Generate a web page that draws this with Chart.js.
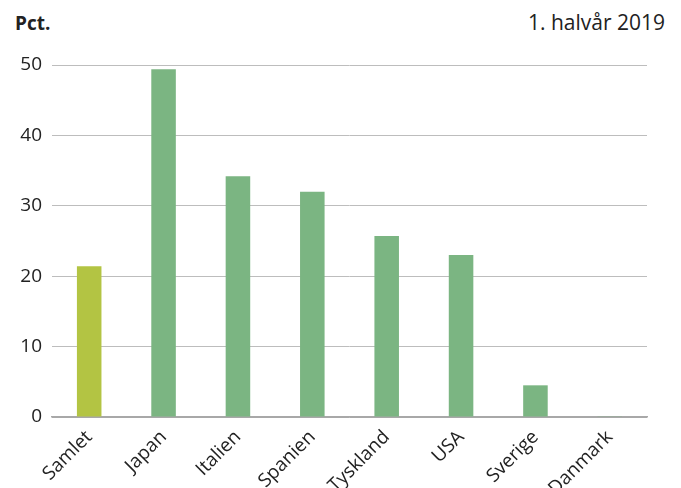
<!DOCTYPE html>
<html>
<head>
<meta charset="utf-8">
<script src="https://cdn.jsdelivr.net/npm/chart.js@4"></script>
<style>
  html, body { margin: 0; padding: 0; background: #fff; }
  #wrap { position: relative; width: 681px; height: 488px; overflow: hidden; font-family: "Open Sans", Roboto, sans-serif; color: #222; }
  #unit { position: absolute; left: 15px; top: 10px; font-size: 19px; font-weight: bold; }
  #period { position: absolute; right: 16px; top: 8px; font-size: 21px; }
  canvas { position: absolute; left: 0; top: 0; }
</style>
</head>
<body>
<div id="wrap">
  <div id="unit">Pct.</div>
  <div id="period">1. halvår 2019</div>
  <canvas id="chart" width="681" height="488"></canvas>
</div>
<script>
// Data
var countries = ["Samlet", "Japan", "Italien", "Spanien", "Tyskland", "USA", "Sverige", "Danmark"];
var shares = [21.4, 49.4, 34.2, 32.0, 25.7, 23.0, 4.5, 0.1];
var yTicks = [0, 10, 20, 30, 40, 50];

var barColors = countries.map(function(c, i) {
  return i === 0 ? "#b3c443" : "#7bb582";
});

var ctx = document.getElementById("chart").getContext("2d");
new Chart(ctx, {
  type: "bar",
  data: {
    labels: countries,
    datasets: [{
      data: shares,
      backgroundColor: barColors,
      borderWidth: 0,
      barPercentage: 0.33,
      categoryPercentage: 1
    }]
  },
  options: {
    responsive: false,
    animation: false,
    layout: { padding: { top: 65, right: 34, left: 0, bottom: 0 } },
    plugins: {
      legend: { display: false },
      tooltip: { enabled: false }
    },
    scales: {
      x: {
        afterFit: function(s) { s.height = 71; },
        grid: { display: false, drawTicks: false },
        border: { display: true, color: "#a8a8a8", width: 1.5 },
        ticks: {
          minRotation: 45,
          maxRotation: 45,
          padding: 9,
          color: "#222",
          font: { family: "'Open Sans', Roboto, sans-serif", size: 19 }
        }
      },
      y: {
        min: 0,
        max: 50,
        afterFit: function(s) { s.width = 52; },
        afterBuildTicks: function(s) {
          s.ticks = yTicks.map(function(v) { return { value: v }; });
        },
        grid: {
          drawTicks: false,
          color: function(c) { return c.tick && c.tick.value === 0 ? "#a8a8a8" : "#bdbdbd"; },
          lineWidth: 1
        },
        border: { display: false },
        ticks: {
          padding: 10,
          color: "#222",
          font: { family: "'Open Sans', Roboto, sans-serif", size: 19 }
        }
      }
    }
  }
});
</script>
</body>
</html>
